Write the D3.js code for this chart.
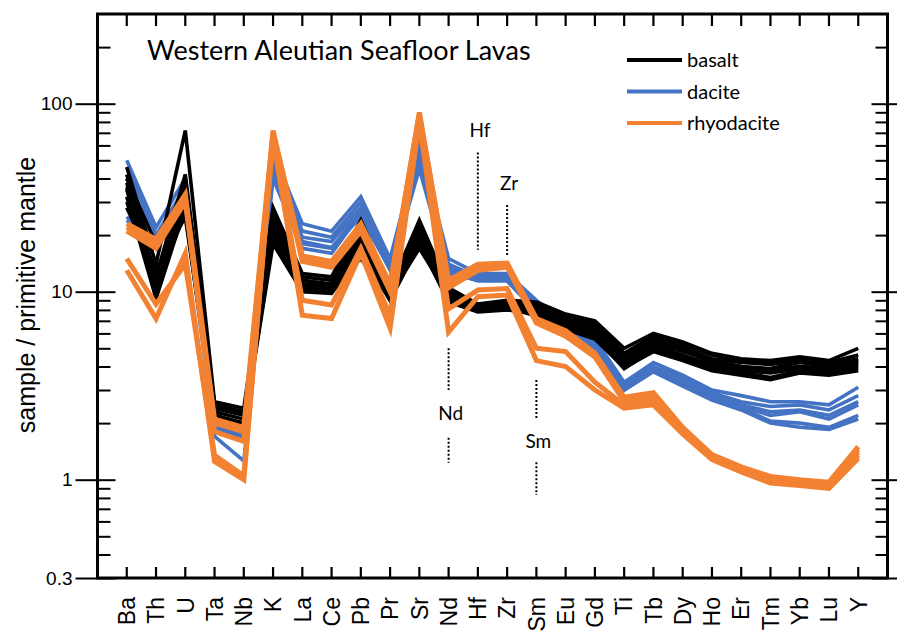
<!DOCTYPE html>
<html>
<head>
<meta charset="utf-8">
<script src="https://cdn.jsdelivr.net/npm/d3@7"></script>
<style>
  body { margin: 0; background: #fff; }
  svg { display: block; }
</style>
</head>
<body>
<div id="chart"></div>
<script>
// element order along the x axis
const elements = ["Ba","Th","U","Ta","Nb","K","La","Ce","Pb","Pr","Sr","Nd","Hf","Zr","Sm",
    "Eu","Gd","Ti","Tb","Dy","Ho","Er","Tm","Yb","Lu","Y"];

// sample / primitive mantle, one row per sample
const basalt = [
    [46, 14, 72, 2.6, 2.4, 28, 12.5, 12, 24, 10.5, 24, 10.5, 8.6, 9.0, 8.8, 7.6, 7.0, 5.0, 6.0, 5.4, 4.7, 4.4, 4.3, 4.5, 4.3, 5.0],
    [42, 12, 42, 2.5, 2.3, 26, 12, 11.5, 22, 10, 23, 10, 8.5, 8.8, 8.6, 7.4, 6.8, 4.7, 5.8, 5.2, 4.6, 4.3, 4.2, 4.4, 4.2, 4.6],
    [38, 10, 38, 2.4, 2.2, 24, 11.5, 11, 21, 9.8, 22, 9.8, 8.4, 8.6, 8.4, 7.2, 6.6, 4.5, 5.6, 5.0, 4.4, 4.2, 4.1, 4.3, 4.1, 4.4],
    [35, 9.5, 32, 2.3, 2.1, 22, 11, 10.5, 20, 9.5, 21, 9.5, 8.2, 8.4, 8.2, 7.0, 6.4, 4.3, 5.4, 4.8, 4.3, 4.0, 3.9, 4.2, 4.0, 4.2],
    [32, 9.2, 28, 2.2, 2.0, 20, 10.5, 10.2, 18, 9.2, 20, 9.3, 8.0, 8.2, 8.0, 6.8, 6.2, 4.1, 5.2, 4.6, 4.1, 3.9, 3.8, 4.0, 3.9, 4.1],
    [30, 11, 26, 2.2, 1.95, 19, 10.2, 10, 17, 9.0, 19, 9.0, 7.9, 8.1, 7.8, 6.6, 6.0, 4.0, 5.0, 4.5, 4.0, 3.8, 3.7, 3.9, 3.8, 4.0],
    [28, 13, 25, 2.1, 1.9, 18, 10, 9.8, 16, 9.0, 18, 8.8, 7.8, 8.0, 7.6, 6.4, 5.8, 3.9, 4.9, 4.4, 3.9, 3.7, 3.5, 3.8, 3.7, 3.9],
    [40, 18, 35, 2.5, 2.25, 25, 11, 10.8, 19, 9.6, 17, 9.6, 8.3, 8.5, 8.2, 7.1, 6.5, 4.4, 5.5, 4.9, 4.2, 4.0, 3.8, 4.0, 3.9, 4.3],
    [36, 12, 30, 2.0, 1.85, 21, 10.8, 10.4, 15, 9.3, 21, 9.2, 8.1, 8.3, 7.4, 6.3, 5.6, 3.95, 4.8, 4.3, 3.8, 3.6, 3.4, 3.7, 3.6, 3.8]
];

const dacite = [
    [50, 22, 40, 2.2, 1.9, 55, 23, 21, 32, 15, 60, 15, 12.5, 12.5, 9.0, 6.8, 5.6, 3.3, 4.2, 3.6, 3.0, 2.8, 2.6, 2.6, 2.5, 3.1],
    [46, 20, 36, 2.1, 1.8, 50, 21, 19.5, 30, 14.5, 55, 14, 12, 12.2, 8.6, 6.5, 5.4, 3.2, 4.0, 3.5, 2.9, 2.6, 2.45, 2.5, 2.35, 2.8],
    [40, 19, 33, 2.0, 1.7, 45, 19.5, 18.5, 28, 14, 52, 13.5, 11.8, 12, 8.3, 6.3, 5.2, 3.1, 3.9, 3.4, 2.8, 2.5, 2.3, 2.35, 2.2, 2.6],
    [25, 18, 30, 1.9, 1.6, 42, 18, 17, 27, 13.5, 48, 13, 11.6, 11.8, 8.1, 6.1, 5.1, 3.05, 3.85, 3.3, 2.75, 2.45, 2.2, 2.3, 2.1, 2.5],
    [24, 17, 28, 1.7, 1.26, 40, 17, 16, 26, 13, 45, 12.5, 11.5, 11.5, 7.9, 6.0, 5.0, 3.0, 3.8, 3.2, 2.7, 2.4, 2.05, 2.0, 1.9, 2.2],
    [28, 17, 29, 1.95, 1.65, 44, 18.5, 17.2, 25, 13.2, 50, 12.8, 11.4, 11.4, 7.8, 5.9, 4.9, 3.0, 3.75, 3.15, 2.65, 2.35, 2.0, 1.9, 1.85, 2.1]
];

const rhyodacite = [
    [22, 18, 32, 1.8, 1.6, 70, 15, 14, 22, 10.5, 90, 11, 13.5, 14, 7.0, 6.0, 4.6, 2.7, 2.8, 1.85, 1.33, 1.15, 1.02, 0.98, 0.95, 1.45],
    [21, 17, 30, 2.0, 1.8, 68, 14.5, 13.5, 21, 10, 85, 10.5, 13, 13.5, 6.8, 5.8, 4.5, 2.6, 2.7, 1.8, 1.3, 1.12, 1.0, 0.96, 0.93, 1.4],
    [23, 19, 33, 2.1, 1.9, 72, 15.5, 14.5, 23, 11, 88, 11.5, 14, 14.2, 7.2, 6.2, 4.7, 2.75, 2.9, 1.9, 1.36, 1.17, 1.04, 1.0, 0.97, 1.5],
    [13, 7.2, 16, 1.25, 1.0, 65, 7.5, 7.2, 16, 6.4, 80, 6.1, 9.4, 9.6, 4.3, 4.0, 3.0, 2.4, 2.5, 1.75, 1.28, 1.1, 0.96, 0.93, 0.9, 1.3],
    [15, 8.6, 14, 1.35, 1.05, 66, 9, 8.5, 17, 7.5, 82, 8.1, 10.2, 10.4, 5.0, 4.8, 3.3, 2.5, 2.55, 1.78, 1.3, 1.12, 0.98, 0.95, 0.92, 1.35]
];

const groups = [
    {name: "dacite", color: "#4573c4", width: 3.6, rows: dacite},
    {name: "basalt", color: "#000000", width: 3.6, rows: basalt},
    {name: "rhyodacite", color: "#f28232", width: 5, rows: rhyodacite}
];
const legendOrder = ["basalt", "dacite", "rhyodacite"];

const majorTicks = [0.3, 1, 10, 100];
const minorTicks = [0.4, 0.5, 0.6, 0.7, 0.8, 0.9, 2, 3, 4, 5, 6, 7, 8, 9,
    20, 30, 40, 50, 60, 70, 80, 90, 200];

// dotted markers: element, label value, [from, to] value segments
const markers = [
    {el: "Hf", label: 66.5, segs: [[55, 16.7]]},
    {el: "Zr", label: 34.7, segs: [[28.9, 15.3]]},
    {el: "Nd", label: 2.08, segs: [[5.0, 3.0], [1.67, 1.23]]},
    {el: "Sm", label: 1.47, segs: [[3.39, 2.13], [1.24, 0.83]]}
];

const W = 897, H = 634;
const frame = {left: 97.5, right: 887.5, top: 14, bottom: 578};

const svg = d3.select("#chart").append("svg")
    .attr("width", W)
    .attr("height", H);

const x = d3.scalePoint()
    .domain(elements)
    .range([frame.left, frame.right])
    .padding(1);

const y = d3.scaleLog()
    .domain([0.3, 300])
    .range([frame.bottom, frame.top]);

// sample lines
const line = d3.line()
    .x((d, i) => x(elements[i]))
    .y(d => y(d));

groups.forEach(g => {
    svg.append("g")
        .selectAll("path")
        .data(g.rows)
        .enter()
        .append("path")
        .attr("d", line)
        .attr("fill", "none")
        .attr("stroke", g.color)
        .attr("stroke-width", g.width)
        .attr("stroke-linejoin", "miter");
});

// dotted markers + labels
markers.forEach(m => {
    m.segs.forEach(s => {
        svg.append("line")
            .attr("x1", x(m.el)).attr("x2", x(m.el))
            .attr("y1", y(s[0])).attr("y2", y(s[1]))
            .attr("stroke", "#000")
            .attr("stroke-width", 2)
            .attr("stroke-dasharray", "2,2");
    });
    svg.append("text")
        .attr("x", x(m.el) + 2)
        .attr("y", y(m.label))
        .attr("text-anchor", "middle")
        .style("font-family", "Lato, sans-serif")
        .style("font-size", "19px")
        .text(m.el);
});

// frame
svg.append("rect")
    .attr("x", frame.left)
    .attr("y", frame.top)
    .attr("width", frame.right - frame.left)
    .attr("height", frame.bottom - frame.top)
    .attr("fill", "none")
    .attr("stroke", "#000")
    .attr("stroke-width", 3);

function tickAxis(axis, tx, ty) {
    const g = svg.append("g")
        .attr("transform", `translate(${tx},${ty})`)
        .call(axis);
    g.select(".domain").remove();
    g.selectAll(".tick line").attr("stroke", "#000").attr("stroke-width", 2);
    return g;
}

// left axis
const leftLabels = tickAxis(d3.axisLeft(y).tickValues(majorTicks).tickSize(22).tickPadding(3)
    .tickFormat(d => d), frame.left, 0);
leftLabels.selectAll("text")
    .style("font-family", "'Liberation Sans', Arial, sans-serif")
    .style("font-size", "19px")
    .attr("fill", "#000");
tickAxis(d3.axisRight(y).tickValues(majorTicks).tickSize(18).tickFormat(""), frame.left, 0);
tickAxis(d3.axisRight(y).tickValues(minorTicks).tickSize(13).tickFormat(""), frame.left, 0);

// right axis
tickAxis(d3.axisLeft(y).tickValues(majorTicks).tickSize(16).tickFormat(""), frame.right, 0);
tickAxis(d3.axisRight(y).tickValues(majorTicks).tickSize(12).tickFormat(""), frame.right, 0);
tickAxis(d3.axisLeft(y).tickValues(minorTicks).tickSize(12).tickFormat(""), frame.right, 0);

// top and bottom category ticks
svg.append("path")
    .attr("d", elements.map(d => `M${x(d)},${frame.top}v12`).join(""))
    .attr("stroke", "#000")
    .attr("stroke-width", 2.2);

svg.append("path")
    .attr("d", elements.map(d => `M${x(d)},${frame.bottom}v-11`).join(""))
    .attr("stroke", "#000")
    .attr("stroke-width", 2.2);

// element labels, rotated
svg.append("g")
    .selectAll("text")
    .data(elements)
    .enter()
    .append("text")
    .attr("transform", d => `translate(${x(d)},597) rotate(-90)`)
    .attr("dy", "0.36em")
    .attr("text-anchor", "end")
    .style("font-family", "'Liberation Sans', Arial, sans-serif")
    .style("font-size", "23px")
    .text(d => d);

// y title
svg.append("text")
    .attr("transform", "translate(35,295) rotate(-90)")
    .attr("text-anchor", "middle")
    .style("font-family", "'Liberation Sans', Arial, sans-serif")
    .style("font-size", "25px")
    .text("sample / primitive mantle");

// title
svg.append("text")
    .attr("x", 147)
    .attr("y", 60)
    .style("font-family", "Lato, sans-serif")
    .style("font-size", "27px")
    .text("Western Aleutian Seafloor Lavas");

// legend
const legend = svg.append("g")
    .selectAll("g")
    .data(legendOrder)
    .enter()
    .append("g")
    .attr("transform", (d, i) => `translate(627,${60 + i * 31.5})`);

legend.append("line")
    .attr("x1", 0).attr("x2", 55)
    .attr("stroke", d => groups.find(g => g.name === d).color)
    .attr("stroke-width", 4);

legend.append("text")
    .attr("x", 60)
    .attr("y", 7)
    .style("font-family", "Lato, sans-serif")
    .style("font-size", "20px")
    .text(d => d);
</script>
</body>
</html>
